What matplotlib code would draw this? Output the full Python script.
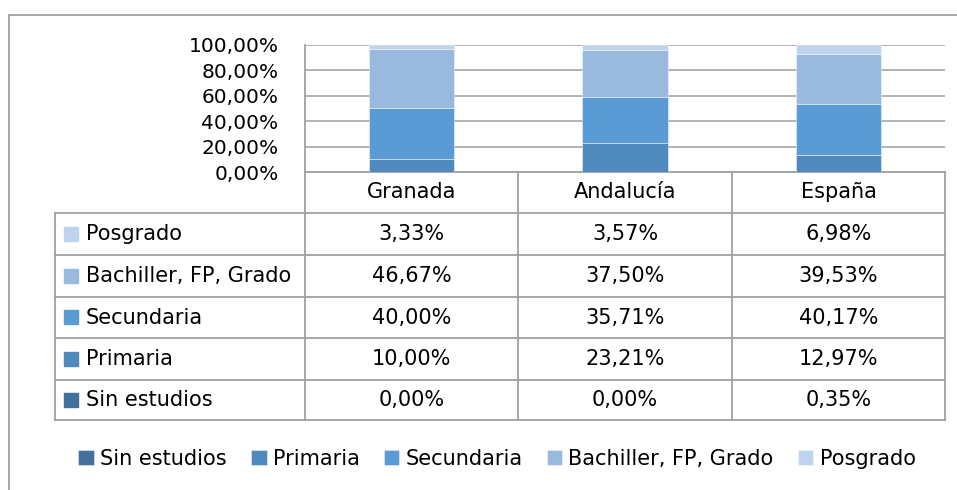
import matplotlib
matplotlib.use("Agg")
import matplotlib.pyplot as plt
from matplotlib.lines import Line2D
from matplotlib.patches import Rectangle

# ---- data ----
categories = ["Granada", "Andalucía", "España"]
series_names = ["Sin estudios", "Primaria", "Secundaria", "Bachiller, FP, Grado", "Posgrado"]
sin_estudios = [0.00, 0.00, 0.35]
primaria = [10.00, 23.21, 12.97]
secundaria = [40.00, 35.71, 40.17]
bachiller = [46.67, 37.50, 39.53]
posgrado = [3.33, 3.57, 6.98]
series_values = [sin_estudios, primaria, secundaria, bachiller, posgrado]
colors = ["#41719C", "#4F89BE", "#5B9BD5", "#9AB9DF", "#BDD3EE"]
yticks = [0, 20, 40, 60, 80, 100]

W, H = 957, 490
fig = plt.figure(figsize=(W / 100, H / 100), dpi=100)
plt.rcParams['font.family'] = ['DejaVu Sans']

def fx(px):
    return px / W

def fy(py):
    return 1 - py / H

GRID = "#A6A6A6"
LINE = "#A0A0A0"

# plot area
x0, x1, ytop, ybot = 305, 945, 45, 172
ax = fig.add_axes([fx(x0), fy(ybot), fx(x1) - fx(x0), fy(ytop) - fy(ybot)])
xs = list(range(len(categories)))
bottom = [0.0] * len(categories)
handles = []
for name, vals, c in zip(series_names, series_values, colors):
    b = ax.bar(xs, vals, 0.4, bottom=bottom, color=c, edgecolor=(1, 1, 1, 0.5),
               linewidth=0.6, label=name, zorder=3)
    handles.append(b)
    bottom = [bo + v for bo, v in zip(bottom, vals)]
ax.set_xlim(-0.5, len(categories) - 0.5)
ax.set_ylim(0, 100)
ax.set_yticks(yticks)
ax.set_yticklabels([f"{t:.2f}%".replace('.', ',') for t in yticks], fontsize=14.5)
ax.tick_params(axis='y', length=0, pad=19)
ax.set_xticks([])
ax.yaxis.grid(True, color=GRID, linewidth=1.2, zorder=0)
for s in ["top", "right"]:
    ax.spines[s].set_visible(False)
ax.spines["left"].set_color(LINE)
ax.spines["left"].set_linewidth(1.3)
ax.spines["bottom"].set_color(LINE)
ax.spines["bottom"].set_linewidth(1.3)
ax.set_facecolor("none")

# ---- data table ----
col_edges = [305, 518, 732, 945]
row_edges = [213, 255, 297, 338, 380, 420]
tab_left = 55

def hline(y, xa, xb):
    fig.add_artist(Line2D([fx(xa), fx(xb)], [fy(y), fy(y)], color=LINE, lw=1.3))

def vline(x, ya, yb):
    fig.add_artist(Line2D([fx(x), fx(x)], [fy(ya), fy(yb)], color=LINE, lw=1.3))

for y in row_edges:
    hline(y, tab_left, col_edges[-1])
vline(tab_left, row_edges[0], row_edges[-1])
vline(col_edges[0], ybot, row_edges[-1])
for x in col_edges[1:]:
    vline(x, ybot, row_edges[-1])

# header
for i, cat in enumerate(categories):
    cx = (col_edges[i] + col_edges[i + 1]) / 2
    fig.text(fx(cx), fy((ybot + row_edges[0]) / 2), cat, ha='center', va='center', fontsize=15)

# rows (top = last series)
order = list(range(len(series_names)))[::-1]
for r, si in enumerate(order):
    cy = (row_edges[r] + row_edges[r + 1]) / 2
    fig.add_artist(Rectangle((fx(64), fy(cy + 7)), fx(14), 14 / H, color=colors[si],
                             transform=fig.transFigure))
    fig.text(fx(86), fy(cy), series_names[si], ha='left', va='center', fontsize=15)
    for i in range(len(categories)):
        cx = (col_edges[i] + col_edges[i + 1]) / 2
        fig.text(fx(cx), fy(cy), f"{series_values[si][i]:.2f}%".replace('.', ','),
                 ha='center', va='center', fontsize=15)

# outer border (top and left)
fig.add_artist(Line2D([fx(9), 1], [fy(15), fy(15)], color=LINE, lw=1.3))
fig.add_artist(Line2D([fx(9), fx(9)], [fy(15), 0], color=LINE, lw=1.3))

# legend
fig.legend(handles=handles, labels=series_names, loc='center', ncol=5,
           bbox_to_anchor=(fx(497), fy(459)), frameon=False, fontsize=15,
           handlelength=0.75, handleheight=0.75, handletextpad=0.3, columnspacing=1.15)

fig.savefig("out.png", dpi=100)
